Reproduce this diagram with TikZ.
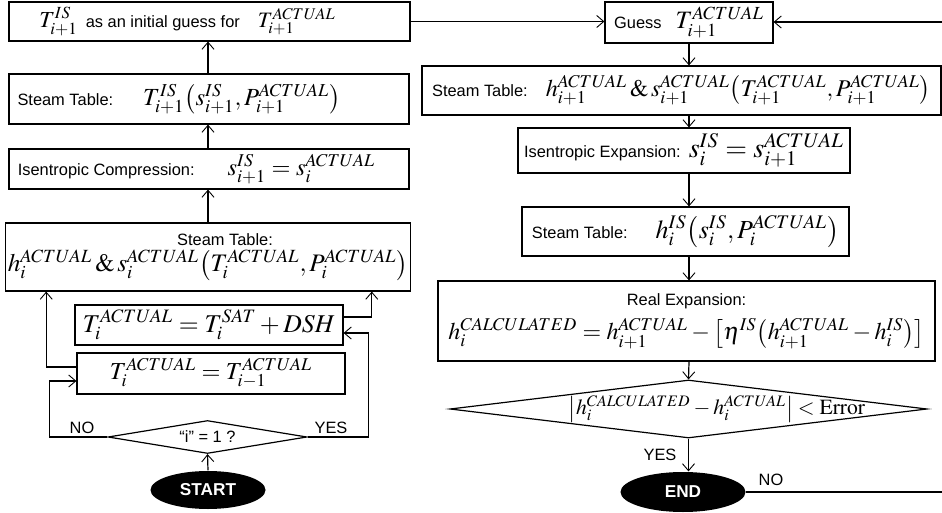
\documentclass[tikz,border=0pt]{standalone}
\usepackage{mathptmx}
\usepackage[no-math]{fontspec}
\setsansfont{Liberation Sans}
\usetikzlibrary{shapes.geometric,arrows.meta}

\newcommand\flowtext{\sffamily\fontsize{8.2}{10}\selectfont}
\newcommand\flowmath[2]{{\fontsize{#1}{#1}\selectfont$#2$}}

\tikzset{
  flowbox/.style={draw, inner sep=1pt, font=\flowtext, align=center},
  decision/.style={diamond, draw, inner sep=0pt, aspect=6, font=\flowtext},
  terminal/.style={ellipse, fill=black, text=white, inner sep=0pt, font=\sffamily\bfseries\fontsize{8.6}{10}\selectfont},
  flowlabel/.style={font=\flowtext, inner sep=0pt},
}

\begin{document}
\begin{tikzpicture}[x=0.5pt, y=-0.5pt, line width=0.6pt, >={Straight Barb[length=3.5pt,width=6pt,line width=0.45pt]}]
    \useasboundingbox (0,0) rectangle (942,513);

    % compression side
    \node[flowbox, minimum width=200.5pt, minimum height=19.5pt] (initguess) at (209.5,21.5) {\flowmath{11.5}{T^{IS}_{i+1}}\hspace{4pt}as an initial guess for\hspace{9pt}\flowmath{11}{T^{ACTUAL}_{i+1}}\hspace{22pt}};
    \node[flowbox, minimum width=200pt, minimum height=25pt] (ttable) at (209,99) {Steam Table:\hspace{15pt}\flowmath{12.3}{T^{IS}_{i+1}\!\left(s^{IS}_{i+1},P^{ACTUAL}_{i+1}\right)}\hspace{30pt}};
    \node[flowbox, minimum width=200pt, minimum height=20pt] (compress) at (209,169) {Isentropic Compression:\hspace{16.5pt}\flowmath{12.2}{s^{IS}_{i+1}=s^{ACTUAL}_{i}}\hspace{12.5pt}};
    \node[flowbox, minimum width=199pt, minimum height=34pt] (hsprev) at (208,257) {\hspace*{17pt}Steam Table:\\[1pt]\flowmath{12.6}{h^{ACTUAL}_{i}\,\&\,s^{ACTUAL}_{i}\!\left(T^{ACTUAL}_{i},P^{ACTUAL}_{i}\right)}};
    \node[flowbox, minimum width=134pt, minimum height=20pt] (satcase) at (209,325) {\flowmath{12.8}{T^{ACTUAL}_{i}=T^{SAT}_{i}+DSH}};
    \node[flowbox, minimum width=134pt, minimum height=20.5pt] (prevcase) at (211,373.5) {\flowmath{12.2}{T^{ACTUAL}_{i}=T^{ACTUAL}_{i-1}}};
    \node[decision, minimum width=99.5pt, minimum height=16.5pt] (firststep) at (207.5,437) {“i” = 1 ?};
    \node[terminal, minimum width=57.5pt, minimum height=19pt] (start) at (208,490) {START};

    % expansion side
    \node[flowbox, minimum width=84pt, minimum height=20.5pt] (guess) at (689,22.5) {Guess\hspace{7pt}\flowmath{12.5}{T^{ACTUAL}_{i+1}}};
    \node[flowbox, minimum width=259.5pt, minimum height=24.5pt] (hsnext) at (681.5,90.5) {Steam Table:\hspace{9pt}\flowmath{12}{h^{ACTUAL}_{i+1}\,\&\,s^{ACTUAL}_{i+1}\!\left(T^{ACTUAL}_{i+1},P^{ACTUAL}_{i+1}\right)}};
    \node[flowbox, minimum width=166pt, minimum height=22.5pt] (expand) at (684,150.5) {Isentropic Expansion:\hspace{4pt}\flowmath{14}{s^{IS}_{i}=s^{ACTUAL}_{i+1}}};
    \node[flowbox, minimum width=163.5pt, minimum height=24.5pt] (hisen) at (685.5,231.5) {Steam Table:\hspace{14pt}\flowmath{13}{h^{IS}_{i}\!\left(s^{IS}_{i},P^{ACTUAL}_{i}\right)}};
    \node[flowbox, minimum width=248.5pt, minimum height=40pt] (realexp) at (686.5,321) {Real Expansion:\\[4pt]\flowmath{12}{h^{CALCULATED}_{i}=h^{ACTUAL}_{i+1}-\left[\eta^{IS}\!\left(h^{ACTUAL}_{i+1}-h^{IS}_{i}\right)\right]}};
    \node[decision, minimum width=238.5pt, minimum height=29pt] (converge) at (688.5,409) {\makebox[0pt]{\hspace{28.5pt}\flowmath{10.8}{\left|h^{CALCULATED}_{i}-h^{ACTUAL}_{i}\right|<\mathrm{Error}}}};
    \node[terminal, minimum width=62.5pt, minimum height=20pt] (finish) at (683,492) {END};

    \node[flowlabel] (nolabL) at (82,428) {NO};
    \node[flowlabel] (yeslabL) at (331,428) {YES};
    \node[flowlabel, anchor=east] (yeslabR) at (677,455) {YES};
    \node[flowlabel] (nolabR) at (771,480) {NO};
    \coordinate (loopin) at (942,22);
    \coordinate (loopout) at (942,492);

    \draw[->] (start.north) -- (firststep.south);
    \draw[->] (firststep.west) -- ++(-58,0) |- ([yshift=-3.75pt]prevcase.west);
    \draw[->] (firststep.east) -- ++(61,0) |- ([yshift=-4pt]satcase.east);
    \draw[->] ([yshift=3.25pt]prevcase.west) -| ([xshift=20.5pt]hsprev.south west);
    \draw[->] ([yshift=4pt]satcase.east) -| ([xshift=-19.5pt]hsprev.south east);
    \draw[->] (start.north |- hsprev.north) -- (start.north |- compress.south);
    \draw[->] (start.north |- compress.north) -- (start.north |- ttable.south);
    \draw[->] (start.north |- ttable.north) -- (start.north |- initguess.south);
    \draw[->] (initguess.east) -- (initguess.east -| guess.west);
    \draw[->] (loopin) -- (loopin -| guess.east);
    \draw[->] (guess.south) -- (guess.south |- hsnext.north);
    \draw[->] (guess.south |- hsnext.south) -- (guess.south |- expand.north);
    \draw[->] (guess.south |- expand.south) -- (guess.south |- hisen.north);
    \draw[->] (guess.south |- hisen.south) -- (guess.south |- realexp.north);
    \draw[->] (guess.south |- realexp.south) -- (converge.north);
    \draw[->] (converge.south) -- (converge.south |- finish.north);
    \draw (finish.east) -- (loopout);
\end{tikzpicture}
\end{document}
